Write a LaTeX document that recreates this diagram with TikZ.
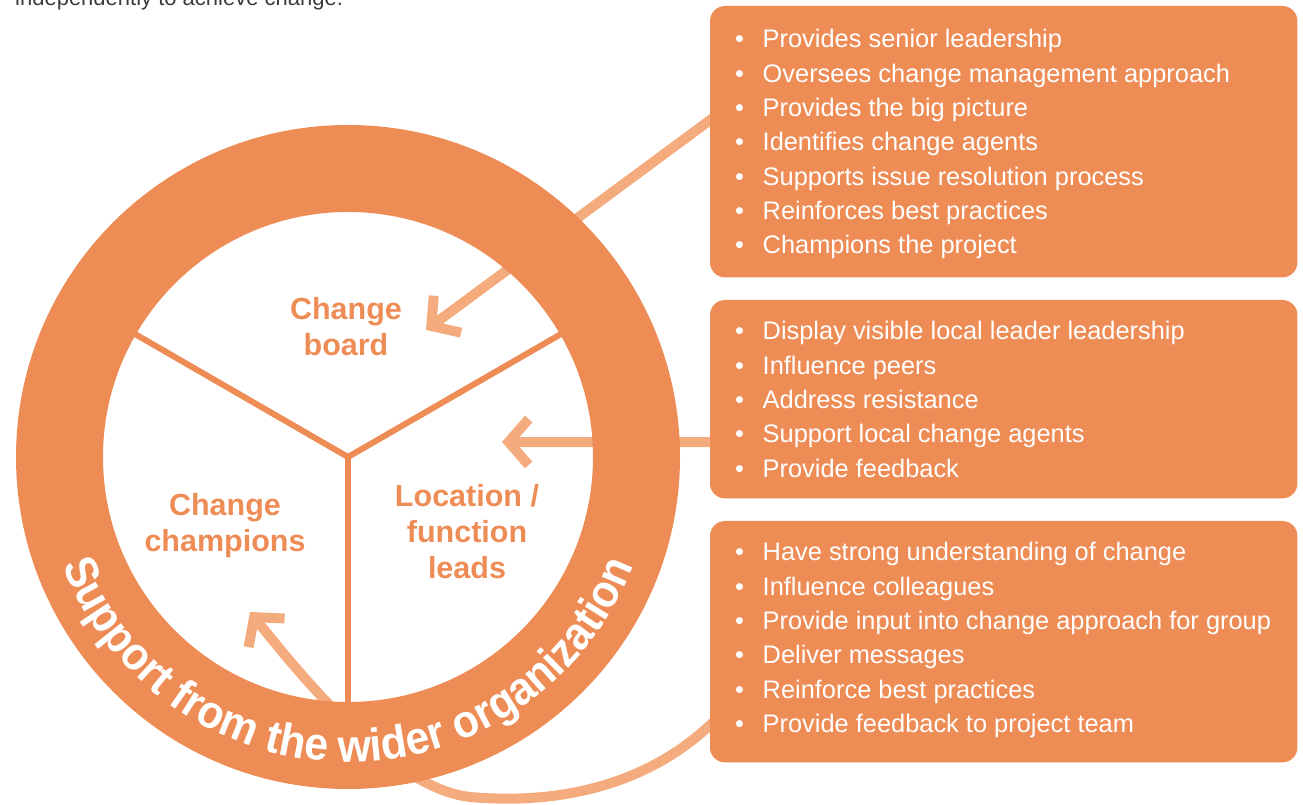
\documentclass[tikz,border=0pt]{standalone}
\usepackage{fontspec}
\setmainfont{Liberation Sans}
\newfontfamily\ringfam{Liberation Sans}[FakeStretch=0.93]
\usetikzlibrary{arrows.meta,decorations.text,calc}
\definecolor{org}{HTML}{EE8C56}
\definecolor{lorg}{HTML}{F4AC7E}
\definecolor{topgray}{HTML}{3C3C3C}
\begin{document}
\begin{tikzpicture}[x=1pt,y=1pt,
  box/.style={fill=org, rounded corners=15pt, minimum width=587pt, inner sep=0pt, anchor=north west},
  item/.style={anchor=base west, inner sep=0pt, text=white, font=\fontsize{25.4}{30}\selectfont},
  lbl/.style={anchor=base, inner sep=0pt, text=org, font=\bfseries\fontsize{30.5}{36}\selectfont},
  link/.style={draw=lorg, line width=10pt, -{Straight Barb[length=20pt,width=46pt]}},
  spoke/.style={draw=org, line width=6pt}]
\useasboundingbox (0,0) rectangle (1303,805);
\clip (0,0) rectangle (1303,805);

\node[anchor=base west, inner sep=0pt, text=topgray, font=\fontsize{22}{26}\selectfont] (intro) at (15,799) {independently to achieve change.};

% boxes (shapes only; filled later on top of arrow tails)
\path (710,799) node[box, minimum height=271pt, fill=none] (b1) {};
\path (710,505) node[box, minimum height=198pt, fill=none] (b2) {};
\path (710,284) node[box, minimum height=241pt, fill=none] (b3) {};

\coordinate (C) at (348,348);
\coordinate (t1) at (426,475);
\coordinate (t2) at (502,363);
\coordinate (t3) at (250,193);

% connectors
\draw[link] ($(b1.west)+(6.4,26.3)$) -- (t1);
\draw[link] ($(b2.west)+(6,-43)$) -- (t2);
\draw[link] ($(b3.south west)+(6,43)$) .. controls (650,20) and (560,0) .. (470,8)
   .. controls (400,16) and (320,105) .. (t3);

% ring and spokes
\draw[org, line width=87pt] (C) circle[radius=288.5];
\draw[spoke] (C) -- ++(150:250);
\draw[spoke] (C) -- ++(30:250);
\draw[spoke] (C) -- ++(270:250);

\node[lbl] (cb) at (346,485) {\begin{tabular}[t]{@{}c@{}}Change\\board\end{tabular}};
\node[lbl] (cc) at (225,289) {\begin{tabular}[t]{@{}c@{}}Change\\champions\end{tabular}};
\node[lbl] (lf) at (467,298) {\begin{tabular}[t]{@{}c@{}}Location /\\function\\leads\end{tabular}};

\path[decorate, decoration={text along path, text align=center, text color=white,
  text={|\ringfam\bfseries\fontsize{46}{46}\selectfont|Support from the wider organization}}]
  ($(C)+(190:305)$) arc[start angle=190, end angle=350, radius=305];

% filled boxes
\fill[org, rounded corners=15pt] (b1.south west) rectangle (b1.north east);
\fill[org, rounded corners=15pt] (b2.south west) rectangle (b2.north east);
\fill[org, rounded corners=15pt] (b3.south west) rectangle (b3.north east);

\foreach \t [count=\i] in {Provides senior leadership, Oversees change management approach,
  Provides the big picture, Identifies change agents, Supports issue resolution process,
  Reinforces best practices, Champions the project}
  \node[item] (b1i\i) at (735,{757-34.3*(\i-1)}) {\makebox[27.5pt][l]{\textbullet}\t};

\foreach \t [count=\i] in {Display visible local leader leadership, Influence peers,
  Address resistance, Support local change agents, Provide feedback}
  \node[item] (b2i\i) at (735,{465-34.3*(\i-1)}) {\makebox[27.5pt][l]{\textbullet}\t};

\foreach \t [count=\i] in {Have strong understanding of change, Influence colleagues,
  Provide input into change approach for group, Deliver messages,
  Reinforce best practices, Provide feedback to project team}
  \node[item] (b3i\i) at (735,{244-34.3*(\i-1)}) {\makebox[27.5pt][l]{\textbullet}\t};
\end{tikzpicture}
\end{document}
